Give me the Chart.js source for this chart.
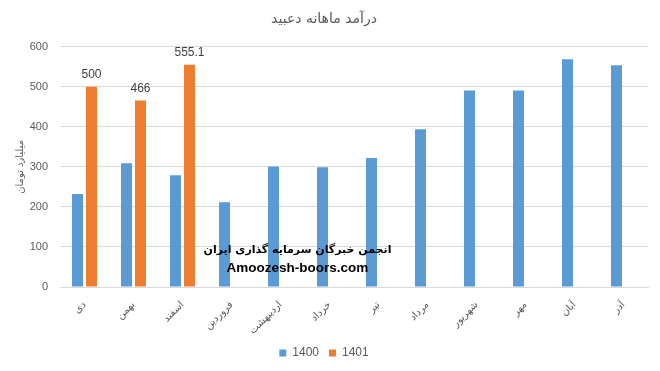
<!DOCTYPE html>
<html lang="fa">
<head>
    <meta charset="UTF-8">
    <title>درآمد ماهانه دعبید</title>
    <script src="https://cdn.jsdelivr.net/npm/chart.js"></script>
    <style>
        html, body { margin: 0; padding: 0; background: #fff; }
        #wrap { position: relative; width: 660px; height: 371px; }
        #watermark { position: absolute; left: 170px; top: 241px; width: 255px; text-align: center; white-space: nowrap; font-family: "DejaVu Sans", "Liberation Sans", sans-serif; font-weight: bold; color: #000; font-size: 11px; line-height: 18px; pointer-events: none; }
        #watermark .site { font-family: "Liberation Sans", Arial, sans-serif; font-size: 13.5px; }
    </style>
</head>
<body>
<div id="wrap">
    <canvas id="chart" width="660" height="371"></canvas>
    <div id="watermark">
        <div dir="rtl">انجمن خبرگان سرمایه گذاری ایران</div>
        <div class="site">Amoozesh-boors.com</div>
    </div>
</div>

<script>
    const months = ['دی', 'بهمن', 'اسفند', 'فروردین', 'اردیبهشت', 'خرداد', 'تیر', 'مرداد', 'شهریور', 'مهر', 'آبان', 'آذر'];
    const values1400 = [232, 309, 279, 212, 301, 299, 322, 394, 491, 491, 569, 554];
    const values1401 = [500, 466, 555.1, null, null, null, null, null, null, null, null, null];
    const yTicks = [0, 100, 200, 300, 400, 500, 600];

    const grey = '#595959';

    // اعداد بالای ستون‌های ۱۴۰۱
    const barLabels = {
        id: 'barLabels',
        afterDatasetsDraw(chart) {
            const ctx = chart.ctx;
            const meta = chart.getDatasetMeta(1);
            ctx.save();
            ctx.font = '12px "Liberation Sans", Arial, sans-serif';
            ctx.fillStyle = '#404040';
            ctx.textAlign = 'center';
            ctx.textBaseline = 'bottom';
            meta.data.forEach((bar, i) => {
                const v = values1401[i];
                if (v === null) return;
                ctx.fillText(String(v), bar.x, bar.y - 6);
            });
            ctx.restore();
        }
    };

    new Chart(document.getElementById('chart'), {
        type: 'bar',
        data: {
            labels: months,
            datasets: [
                { label: '1400', data: values1400, backgroundColor: '#5B9BD5', categoryPercentage: 0.571, barPercentage: 0.786 },
                { label: '1401', data: values1401, backgroundColor: '#ED7D31', categoryPercentage: 0.571, barPercentage: 0.786 }
            ]
        },
        options: {
            responsive: false,
            animation: false,
            layout: { padding: { left: 0, right: 12, top: 0, bottom: 2 } },
            plugins: {
                title: {
                    display: true,
                    text: 'درآمد ماهانه دعبید',
                    color: grey,
                    font: { family: '"DejaVu Sans", sans-serif', size: 14, weight: 'normal' },
                    padding: { top: 11, bottom: 19 }
                },
                legend: {
                    position: 'bottom',
                    labels: {
                        color: grey,
                        boxWidth: 7,
                        boxHeight: 7,
                        padding: 10,
                        font: { family: '"Liberation Sans", Arial, sans-serif', size: 12 }
                    }
                },
                tooltip: { enabled: false }
            },
            scales: {
                x: {
                    grid: { display: false },
                    border: { color: '#D9D9D9' },
                    ticks: {
                        color: grey,
                        minRotation: 45,
                        maxRotation: 45,
                        padding: 4,
                        font: { family: '"DejaVu Sans", sans-serif', size: 10 }
                    },
                    afterFit(scale) { scale.height = 50; }
                },
                y: {
                    min: 0,
                    max: 600,
                    afterBuildTicks(scale) { scale.ticks = yTicks.map(v => ({ value: v })); },
                    grid: { color: '#D9D9D9', drawTicks: false },
                    border: { display: false },
                    ticks: {
                        color: grey,
                        padding: 12,
                        font: { family: '"Liberation Sans", Arial, sans-serif', size: 11 }
                    },
                    title: {
                        display: true,
                        text: 'میلیارد تومان',
                        color: grey,
                        font: { family: '"DejaVu Sans", sans-serif', size: 10 },
                        padding: { top: 14, bottom: 0 }
                    },
                    afterFit(scale) { scale.width = 60; }
                }
            }
        },
        plugins: [barLabels]
    });
</script>
</body>
</html>
